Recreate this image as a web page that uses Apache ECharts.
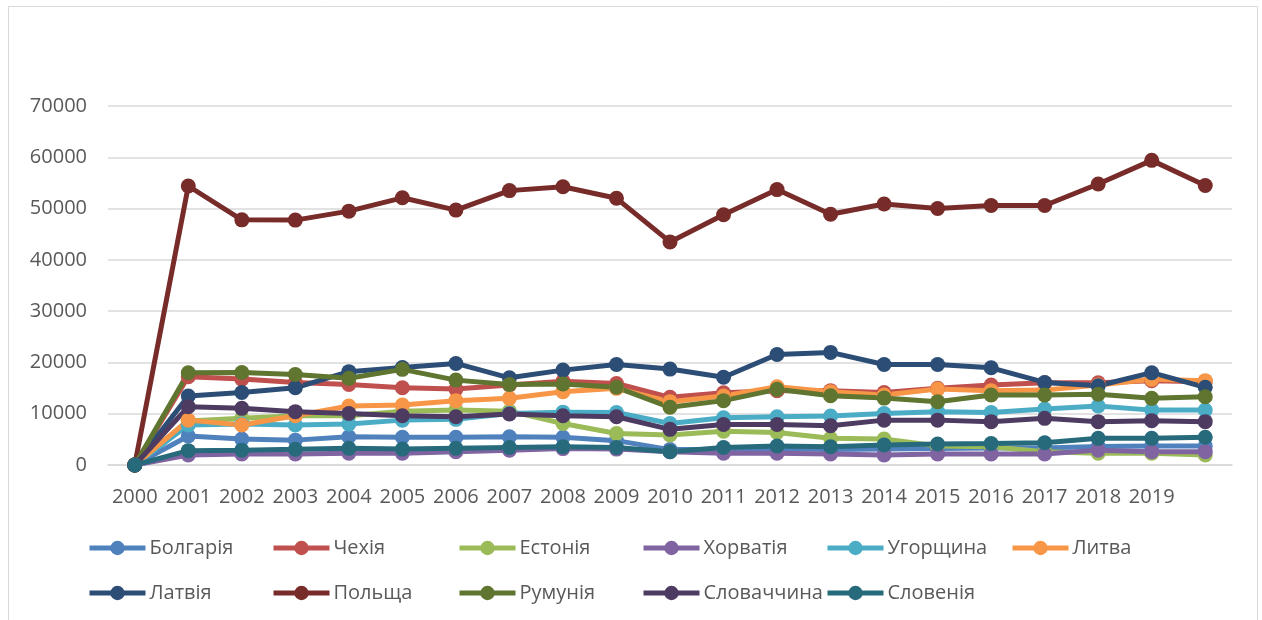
<!DOCTYPE html>
<html>
<head>
<meta charset="utf-8">
<script src="https://cdn.jsdelivr.net/npm/echarts@6/dist/echarts.min.js"></script>
<style>
  html, body { margin: 0; padding: 0; background: #fff; }
  #main { width: 1262px; height: 620px; }
</style>
</head>
<body>
<div id="main"></div>
<script>
// роки (останній стовпчик без підпису, як в оригіналі)
const years = ['2000','2001','2002','2003','2004','2005','2006','2007','2008','2009',
  '2010','2011','2012','2013','2014','2015','2016','2017','2018','2019',''];
const yTicks = [0, 10000, 20000, 30000, 40000, 50000, 60000, 70000];

const bulgaria  = [0, 5650, 5050, 4850, 5500, 5400, 5400, 5500, 5400, 4750, 3000, 3000, 3200, 3000, 3100, 3200, 3300, 3300, 3600, 3700, 3700];
const czechia   = [0, 17200, 16750, 16100, 15700, 15050, 14800, 15600, 16350, 15900, 13200, 14100, 14500, 14500, 14150, 14950, 15600, 16050, 16050, 16450, 16250];
const estonia   = [0, 8600, 9100, 9600, 9600, 10500, 10700, 10500, 8100, 6150, 5850, 6600, 6350, 5200, 5050, 3700, 3550, 2600, 2300, 2300, 1950];
const croatia   = [0, 1950, 2150, 2150, 2300, 2300, 2600, 2900, 3200, 3100, 2600, 2300, 2300, 2150, 1950, 2150, 2150, 2150, 2900, 2600, 2600];
const hungary   = [0, 7800, 8000, 7800, 8000, 8750, 8900, 10050, 10300, 10250, 8100, 9200, 9400, 9550, 10050, 10400, 10250, 10900, 11500, 10700, 10700];
const lithuania = [0, 8750, 7800, 9600, 11500, 11700, 12550, 13000, 14300, 14950, 12350, 13450, 15250, 14300, 13650, 14800, 14500, 14600, 15600, 16700, 16450];
const latvia    = [0, 13450, 14150, 15050, 18200, 19000, 19800, 17000, 18500, 19600, 18700, 17100, 21550, 21950, 19600, 19600, 18950, 16100, 15450, 18000, 15150];
const poland    = [0, 54400, 47800, 47750, 49500, 52100, 49700, 53500, 54250, 52000, 43500, 48800, 53700, 48900, 50900, 50000, 50600, 50600, 54800, 59400, 54500];
const romania   = [0, 18000, 18050, 17650, 16900, 18650, 16550, 15700, 15800, 15150, 11250, 12550, 14750, 13500, 13050, 12350, 13650, 13650, 13800, 13000, 13300];
const slovakia  = [0, 11350, 11050, 10400, 10050, 9600, 9400, 9950, 9600, 9400, 6950, 7900, 7900, 7650, 8750, 8750, 8450, 9100, 8450, 8650, 8450];
const slovenia  = [0, 2800, 2900, 3050, 3250, 3100, 3250, 3400, 3550, 3400, 2600, 3400, 3700, 3550, 3900, 4100, 4200, 4350, 5200, 5200, 5400];

const names = ['Болгарія','Чехія','Естонія','Хорватія','Угорщина','Литва',
  'Латвія','Польща','Румунія','Словаччина','Словенія'];
const values = [bulgaria, czechia, estonia, croatia, hungary, lithuania,
  latvia, poland, romania, slovakia, slovenia];
const colors = ['#4F81BD','#C0504D','#9BBB59','#8064A2','#4BACC6','#F79646',
  '#2C4D75','#772C2A','#5F7530','#4D3B62','#276A7C'];

const font = 'Open Sans';
const textColor = '#595959';

// легенда — стовпчиками, як в Excel
const legendCols = [
  ['Болгарія','Латвія'], ['Чехія','Польща'], ['Естонія','Румунія'],
  ['Хорватія','Словаччина'], ['Угорщина','Словенія'], ['Литва']
];
const legendLeft = [87, 271, 457, 641, 825, 1010];

let chart = echarts.init(document.getElementById('main'));
chart.setOption({
  animation: false,
  color: colors,
  graphic: [{
    type: 'rect',
    shape: { x: 8.5, y: 6.5, width: 1249, height: 700 },
    style: { fill: 'none', stroke: '#D9D9D9', lineWidth: 1 },
    silent: true
  }],
  legend: legendCols.map((col, i) => ({
    data: col,
    orient: 'vertical',
    left: legendLeft[i],
    top: 536,
    itemWidth: 56,
    itemHeight: 18,
    itemGap: 21,
    padding: 0,
    lineStyle: { width: 5 },
    textStyle: { color: textColor, fontFamily: font, fontSize: 20, lineHeight: 24, padding: [0, 0, 0, -1] }
  })),
  grid: { left: 108, right: 30, top: 106, bottom: 155 },
  xAxis: {
    type: 'category',
    data: years,
    boundaryGap: true,
    axisLine: { lineStyle: { color: '#D9D9D9', width: 1.5 } },
    axisTick: { show: false },
    axisLabel: { interval: 0, color: textColor, fontFamily: font, fontSize: 20, margin: 22 }
  },
  yAxis: {
    type: 'value',
    min: yTicks[0],
    max: yTicks[yTicks.length - 1],
    interval: 10000,
    axisLine: { show: false },
    axisTick: { show: false },
    splitLine: { lineStyle: { color: '#D9D9D9', width: 1.5 } },
    axisLabel: { color: textColor, fontFamily: font, fontSize: 20, margin: 21, formatter: v => String(v) }
  },
  series: names.map((n, i) => ({
    name: n,
    type: 'line',
    data: values[i],
    symbol: 'circle',
    symbolSize: 15,
    lineStyle: { width: 5 },
    emphasis: { disabled: true }
  }))
});
</script>
</body>
</html>
